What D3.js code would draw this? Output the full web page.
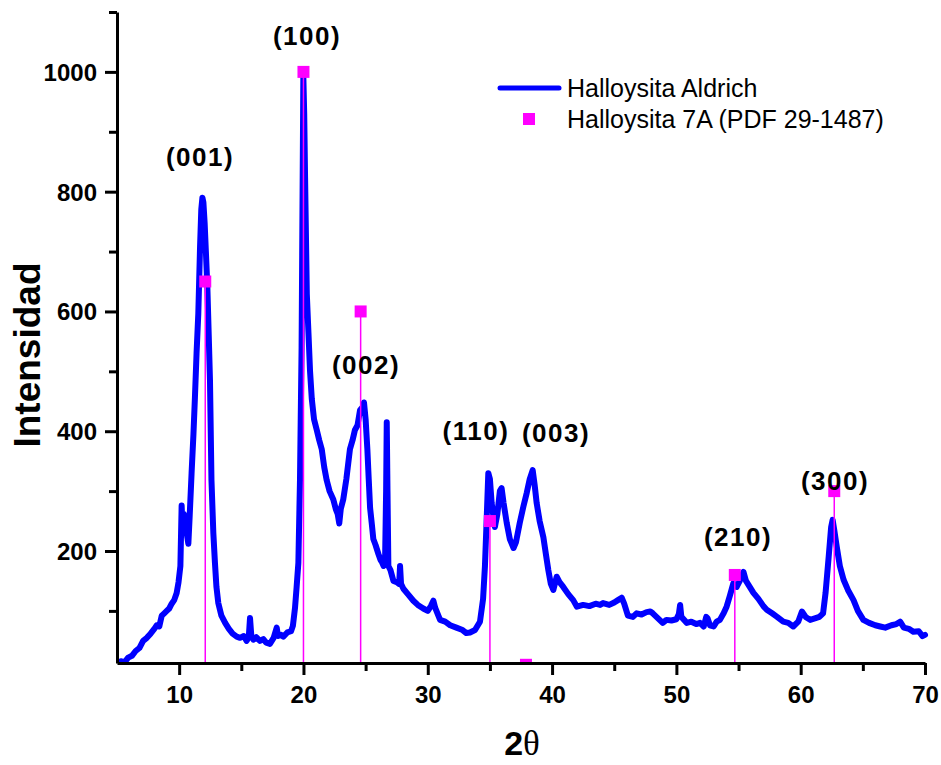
<!DOCTYPE html>
<html>
<head>
<meta charset="utf-8">
<script src="https://cdn.jsdelivr.net/npm/d3@7"></script>
<style>
  html, body { margin: 0; padding: 0; background: #fff; }
  svg { display: block; }
</style>
</head>
<body>
<svg id="chart" width="941" height="765"></svg>
<script>
// Measured XRD scan of the Aldrich halloysite: [2θ (deg), intensity (counts)]
const aldrichScan = [
  [5.0, 12], [5.3, 16], [5.6, 14], [5.9, 22], [6.2, 25], [6.5, 33], [6.8, 38], [7.1, 50],
  [7.4, 55], [7.7, 62], [8.0, 70], [8.2, 76], [8.4, 74], [8.6, 92], [8.8, 96], [9.0, 100],
  [9.2, 104], [9.4, 112], [9.6, 118], [9.8, 130], [9.95, 148], [10.1, 175], [10.2, 276],
  [10.28, 232], [10.38, 262], [10.5, 240], [10.62, 228], [10.74, 212], [10.85, 260],
  [11.0, 330], [11.15, 395], [11.27, 457], [11.4, 530], [11.54, 596], [11.68, 707],
  [11.78, 770], [11.87, 790], [11.95, 782], [12.05, 748], [12.15, 700], [12.27, 640],
  [12.38, 560], [12.48, 485], [12.6, 318], [12.75, 230], [12.88, 180], [13.0, 140],
  [13.15, 113], [13.4, 92], [13.7, 80], [14.0, 70], [14.3, 62], [14.63, 57], [14.9, 55],
  [15.2, 58], [15.43, 50], [15.6, 56], [15.7, 88], [15.8, 60], [15.97, 52], [16.2, 56],
  [16.5, 50], [16.77, 53], [17.0, 47], [17.3, 45], [17.6, 55], [17.85, 72], [17.95, 58],
  [18.2, 60], [18.38, 57], [18.7, 64], [19.0, 66], [19.15, 75], [19.32, 105], [19.45, 140],
  [19.59, 180], [19.72, 318], [19.85, 540], [19.93, 800], [19.99, 992], [20.06, 930],
  [20.13, 824], [20.27, 629], [20.4, 565], [20.53, 500], [20.67, 454], [20.85, 420],
  [21.07, 402], [21.27, 385], [21.47, 370], [21.67, 340], [21.87, 318], [22.1, 300],
  [22.4, 286], [22.6, 270], [22.75, 262], [22.88, 246], [23.0, 270], [23.2, 286],
  [23.45, 320], [23.74, 370], [23.95, 385], [24.14, 402], [24.35, 410], [24.55, 435],
  [24.75, 440], [24.87, 448], [25.0, 420], [25.14, 370], [25.25, 320], [25.36, 272],
  [25.5, 245], [25.62, 220], [25.8, 210], [26.03, 195], [26.2, 185], [26.3, 182],
  [26.45, 175], [26.57, 190], [26.65, 300], [26.7, 415], [26.76, 300], [26.83, 175],
  [27.0, 168], [27.24, 150], [27.5, 148], [27.7, 145], [27.77, 175], [27.85, 145],
  [28.04, 137], [28.4, 128], [28.84, 117], [29.2, 110], [29.64, 104], [30.0, 100],
  [30.25, 108], [30.45, 117], [30.6, 105], [30.99, 85], [31.4, 82], [31.8, 76], [32.3, 72],
  [32.8, 68], [33.1, 63], [33.4, 64], [33.8, 68], [34.2, 82], [34.45, 120], [34.6, 175],
  [34.75, 260], [34.87, 330], [35.0, 320], [35.14, 280], [35.28, 258], [35.4, 240],
  [35.6, 262], [35.8, 300], [35.94, 305], [36.1, 280], [36.35, 247], [36.6, 220],
  [36.9, 205], [37.1, 215], [37.4, 247], [37.7, 275], [37.96, 297], [38.2, 320],
  [38.44, 335], [38.6, 310], [38.76, 280], [39.0, 250], [39.3, 223], [39.5, 195],
  [39.7, 168], [39.9, 145], [40.1, 135], [40.37, 157], [40.6, 148], [40.9, 140],
  [41.3, 128], [41.7, 118], [42.0, 107], [42.5, 110], [43.0, 108], [43.5, 112],
  [43.86, 110], [44.1, 113], [44.6, 110], [45.0, 114], [45.3, 118], [45.6, 122],
  [45.8, 112], [46.1, 92], [46.5, 90], [46.8, 96], [47.2, 94], [47.6, 98], [47.9, 99],
  [48.1, 96], [48.5, 88], [48.9, 80], [49.2, 85], [49.6, 84], [50.0, 86], [50.2, 95],
  [50.3, 110], [50.4, 90], [50.84, 80], [51.2, 82], [51.6, 78], [51.9, 80], [52.2, 74],
  [52.4, 90], [52.5, 88], [52.7, 76], [53.0, 74], [53.24, 82], [53.5, 85], [53.8, 96],
  [54.04, 107], [54.3, 125], [54.58, 146], [54.85, 140], [55.1, 150], [55.4, 165],
  [55.6, 150], [55.9, 140], [56.2, 130], [56.6, 120], [57.0, 108], [57.27, 102],
  [57.7, 96], [58.1, 90], [58.6, 82], [59.0, 80], [59.4, 74], [59.8, 82], [60.1, 99],
  [60.4, 90], [60.76, 85], [61.2, 88], [61.5, 90], [61.8, 96], [62.0, 130], [62.25, 190],
  [62.45, 240], [62.57, 252], [62.7, 235], [62.9, 207], [63.15, 175], [63.45, 152],
  [63.8, 135], [64.25, 118], [64.6, 100], [65.04, 85], [65.5, 80], [66.0, 76], [66.4, 74],
  [66.8, 72], [67.3, 76], [67.7, 78], [68.0, 82], [68.3, 72], [68.7, 70], [69.06, 65],
  [69.5, 66], [69.8, 58], [70.0, 60]
];

// Reference pattern, halloysite 7A (PDF 29-1487)
const refAngle     = [12.1, 20.0, 24.6, 35.0, 37.9, 54.7, 62.7];
const refIntensity = [650, 1000, 600, 250, 10, 160, 300];

// Miller index labels and their anchors in data units
const hklLabels = ["(001)", "(100)", "(002)", "(110)", "(003)", "(210)", "(300)"];
const hklAngle  = [11.68, 20.29, 25.03, 33.88, 40.32, 54.96, 62.76];
const hklLevel  = [843, 1045, 496, 385, 382, 208, 302];

// Axis ticks
const xMajorTicks = [10, 20, 30, 40, 50, 60, 70];
const xMinorTicks = [15, 25, 35, 45, 55, 65];
const yMajorTicks = [200, 400, 600, 800, 1000];
const yMinorTicks = [100, 300, 500, 700, 900, 1100];

const legendItems = ["Halloysita Aldrich", "Halloysita 7A (PDF 29-1487)"];

const BLUE = "#0000ff";
const MAGENTA = "#ff00ff";
const SANS = "'Liberation Sans', Arial, Helvetica, sans-serif";

const svg = d3.select("#chart");
const plotLeft = 117, plotRight = 925, plotTop = 12, plotBottom = 663;

const x = d3.scaleLinear().domain([5, 70]).range([plotLeft, plotRight]);
const y = d3.scaleLinear().domain([13, 1100]).range([plotBottom, plotTop]);

svg.append("rect").attr("width", 941).attr("height", 765).attr("fill", "#fff");

svg.append("defs").append("clipPath").attr("id", "plotClip")
  .append("rect").attr("x", plotLeft).attr("y", 0)
  .attr("width", 941 - plotLeft).attr("height", plotBottom);

const plot = svg.append("g").attr("clip-path", "url(#plotClip)");

// Measured scan
const line = d3.line().x(d => x(d[0])).y(d => y(d[1]));
plot.append("path")
  .datum(aldrichScan)
  .attr("d", line)
  .attr("fill", "none")
  .attr("stroke", BLUE)
  .attr("stroke-width", 6)
  .attr("stroke-linejoin", "round")
  .attr("stroke-linecap", "round");

// Reference sticks and markers
const ref = refAngle.map((a, i) => ({ a, v: refIntensity[i] }));
plot.selectAll("line.stick").data(ref).join("line")
  .attr("class", "stick")
  .attr("x1", d => x(d.a)).attr("x2", d => x(d.a))
  .attr("y1", d => y(d.v)).attr("y2", y(13))
  .attr("stroke", MAGENTA).attr("stroke-width", 1.5);
plot.selectAll("rect.mark").data(ref).join("rect")
  .attr("class", "mark")
  .attr("x", d => x(d.a) - 6).attr("y", d => y(d.v) - 6)
  .attr("width", 12).attr("height", 12)
  .attr("fill", MAGENTA);

// Axes
function styleAxis(g) {
  g.select(".domain").attr("stroke", "#000").attr("stroke-width", 3);
  g.selectAll(".tick line").attr("stroke", "#000").attr("stroke-width", 3);
  g.selectAll("text").attr("font-family", SANS).attr("font-weight", "bold")
    .attr("font-size", 24).attr("fill", "#000");
}

const xAxis = svg.append("g").attr("transform", `translate(0,${plotBottom})`)
  .call(d3.axisBottom(x).tickValues(xMajorTicks).tickSize(12).tickSizeOuter(0)
    .tickPadding(14).tickFormat(d3.format("d")));
styleAxis(xAxis);
xAxis.selectAll("text").attr("dy", "0.71em").attr("y", 23);

const xMinor = svg.append("g").attr("transform", `translate(0,${plotBottom})`)
  .call(d3.axisBottom(x).tickValues(xMinorTicks).tickSize(8).tickFormat(""));
xMinor.select(".domain").remove();
xMinor.selectAll(".tick line").attr("stroke", "#000").attr("stroke-width", 3);

const yAxis = svg.append("g").attr("transform", `translate(${plotLeft},0)`)
  .call(d3.axisLeft(y).tickValues(yMajorTicks).tickSize(12).tickSizeOuter(0)
    .tickPadding(8).tickFormat(d3.format("d")));
styleAxis(yAxis);
yAxis.selectAll("text").attr("dy", "0.35em");

const yMinor = svg.append("g").attr("transform", `translate(${plotLeft},0)`)
  .call(d3.axisLeft(y).tickValues(yMinorTicks).tickSize(8).tickFormat(""));
yMinor.select(".domain").remove();
yMinor.selectAll(".tick line").attr("stroke", "#000").attr("stroke-width", 3);

// Axis titles
svg.append("text")
  .attr("transform", "translate(40,355) rotate(-90)")
  .attr("text-anchor", "middle")
  .attr("font-family", SANS).attr("font-weight", "bold").attr("font-size", 37)
  .text("Intensidad");

const xt = svg.append("text")
  .attr("x", 522).attr("y", 755)
  .attr("text-anchor", "middle");
xt.append("tspan").attr("font-family", SANS).attr("font-weight", "bold")
  .attr("font-size", 34).text("2");
xt.append("tspan").attr("font-family", "'Liberation Serif', 'Times New Roman', serif")
  .attr("font-size", 35).text("θ");

// Miller index labels
svg.selectAll("text.hkl").data(hklLabels).join("text")
  .attr("class", "hkl")
  .attr("x", (d, i) => x(hklAngle[i]))
  .attr("y", (d, i) => y(hklLevel[i]))
  .attr("text-anchor", "middle")
  .attr("font-family", SANS).attr("font-weight", "bold").attr("font-size", 26)
  .attr("letter-spacing", 1.5)
  .text(d => d);

// Legend
const legend = svg.append("g");
legend.append("line")
  .attr("x1", 500).attr("x2", 559).attr("y1", 88).attr("y2", 88)
  .attr("stroke", BLUE).attr("stroke-width", 5).attr("stroke-linecap", "round");
legend.append("rect")
  .attr("x", 523).attr("y", 113).attr("width", 12).attr("height", 12)
  .attr("fill", MAGENTA);
legend.selectAll("text").data(legendItems).join("text")
  .attr("x", 567)
  .attr("y", (d, i) => 97 + i * 31)
  .attr("font-family", SANS).attr("font-size", 25).attr("fill", "#000")
  .text(d => d);
</script>
</body>
</html>
